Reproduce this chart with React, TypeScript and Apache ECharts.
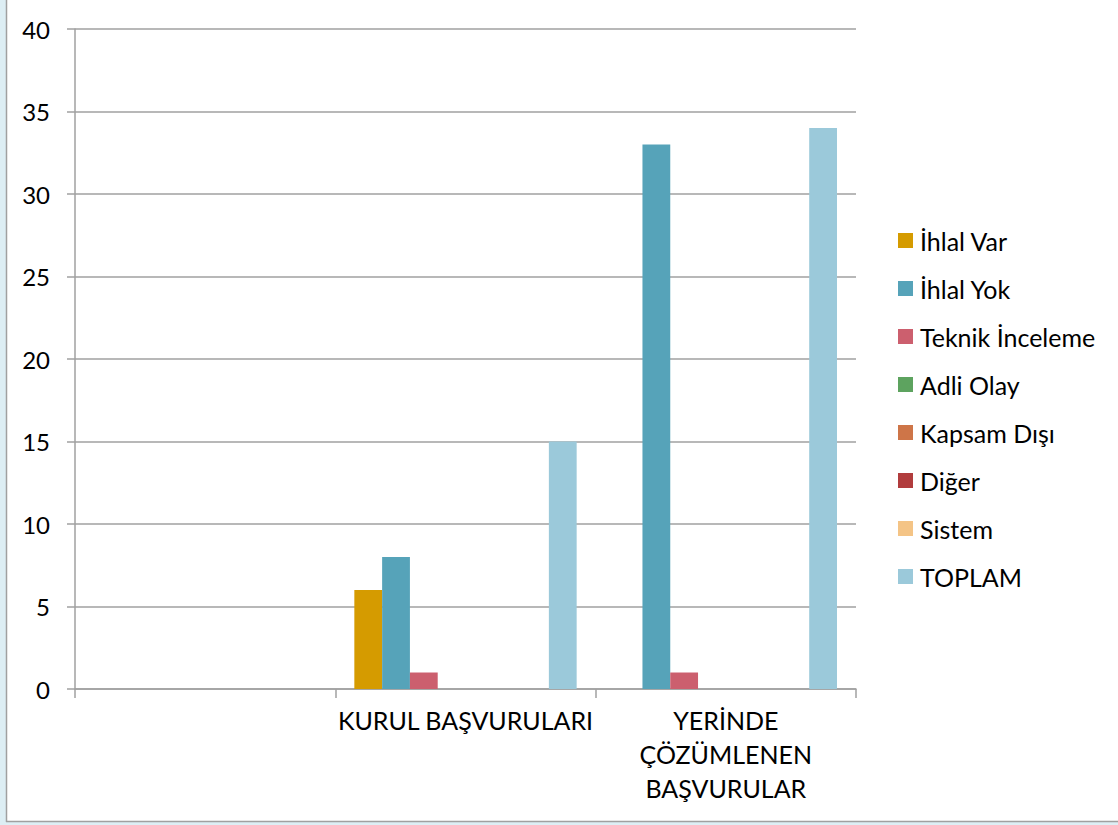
import React, { useEffect, useRef } from "react";
import * as echarts from "echarts";

const categories = ["", "KURUL BAŞVURULARI", "YERİNDE\nÇÖZÜMLENEN\nBAŞVURULAR"];
const seriesNames = ["İhlal Var", "İhlal Yok", "Teknik İnceleme", "Adli Olay", "Kapsam Dışı", "Diğer", "Sistem", "TOPLAM"];
const ihlalVar = [0, 6, 0];
const ihlalYok = [0, 8, 33];
const teknikInceleme = [0, 1, 1];
const adliOlay = [0, 0, 0];
const kapsamDisi = [0, 0, 0];
const diger = [0, 0, 0];
const sistem = [0, 0, 0];
const toplam = [0, 15, 34];
const seriesValues = [ihlalVar, ihlalYok, teknikInceleme, adliOlay, kapsamDisi, diger, sistem, toplam];
const colors = ["#D59B00", "#56A3B9", "#CC5F6E", "#5DA35F", "#CE7548", "#B13C3D", "#F4C486", "#9BC9DA"];

const FONT = "Lato, 'Noto Sans', sans-serif";

export default function App() {
  const ref = useRef<HTMLDivElement>(null);
  useEffect(() => {
    if (!ref.current) return;
    const chart = echarts.init(ref.current, null, { renderer: "svg" });
    chart.setOption({
      animation: false,
      backgroundColor: "#ffffff",
      textStyle: { fontFamily: FONT },
      graphic: [
        { type: "rect", shape: { x: 0, y: 0, width: 6, height: 825 }, style: { fill: "#DDEEF4" }, silent: true },
        { type: "rect", shape: { x: 0, y: 822, width: 1118, height: 3 }, style: { fill: "#DDEEF4" }, silent: true },
        { type: "line", shape: { x1: 6.5, y1: 0, x2: 6.5, y2: 822 }, style: { stroke: "#A0A0A0", lineWidth: 1.5 }, silent: true },
        { type: "line", shape: { x1: 6, y1: 821.5, x2: 1118, y2: 821.5 }, style: { stroke: "#A0A0A0", lineWidth: 1.5 }, silent: true },
      ],
      grid: { left: 75, top: 29, width: 781, height: 660, containLabel: false },
      legend: {
        orient: "vertical",
        left: 898,
        top: 228,
        padding: 0,
        itemWidth: 15,
        itemHeight: 15,
        itemGap: 23,
        icon: "rect",
        data: seriesNames,
        textStyle: { fontFamily: FONT, fontSize: 25, color: "#000", padding: [0, 0, 0, 2] },
      },
      xAxis: {
        type: "category",
        data: categories,
        axisLine: { lineStyle: { color: "#A0A0A0", width: 1.5 } },
        axisTick: { show: true, length: 9, alignWithLabel: false, lineStyle: { color: "#A0A0A0", width: 1.5 } },
        axisLabel: { interval: 0, fontFamily: FONT, fontSize: 25, color: "#000", lineHeight: 34, margin: 14 },
      },
      yAxis: {
        type: "value",
        min: 0,
        max: 40,
        interval: 5,
        axisLine: { show: true, lineStyle: { color: "#A0A0A0", width: 1.5 } },
        axisTick: { show: true, length: 8, inside: false, lineStyle: { color: "#A0A0A0", width: 1.5 } },
        splitLine: { lineStyle: { color: "#A0A0A0", width: 1.5 } },
        axisLabel: { fontFamily: FONT, fontSize: 24, color: "#000", margin: 25 },
      },
      series: seriesNames.map((name, i) => ({
        name,
        type: "bar",
        data: seriesValues[i],
        itemStyle: { color: colors[i] },
        barGap: "0%",
        barCategoryGap: "14.6%",
      })),
    });
    return () => chart.dispose();
  }, []);
  return <div ref={ref} style={{ position: "fixed", left: 0, top: 0, width: 1118, height: 825 }} />;
}
